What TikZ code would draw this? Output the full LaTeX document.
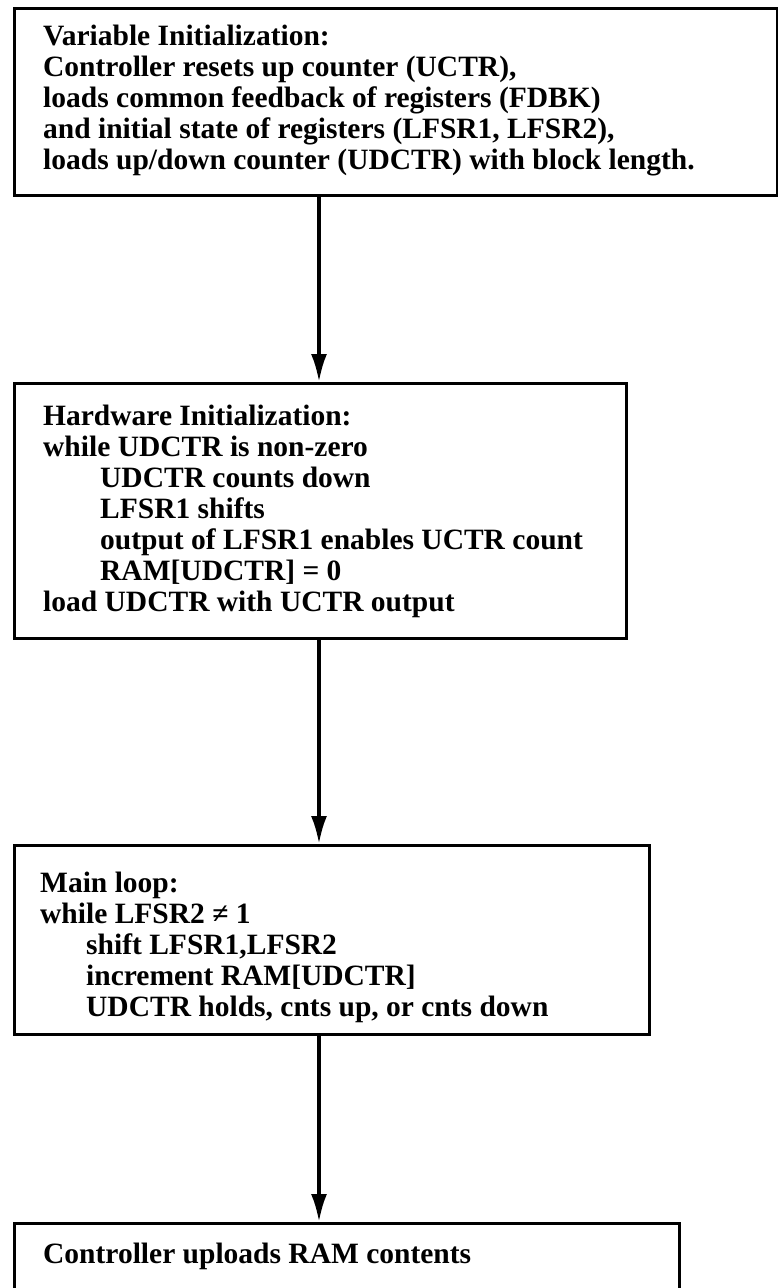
\documentclass[tikz,border=0pt]{standalone}
\usepackage{fontspec}
\setmainfont{Liberation Serif}
\usetikzlibrary{arrows.meta}
\tikzset{
  box/.style={draw, line width=3pt, inner sep=0pt, anchor=north west},
  txt/.style={anchor=north west, inner sep=0pt, align=left, font=\bfseries\fontsize{29.5}{31}\selectfont},
  arr/.style={line width=3.5pt, -{Latex[length=28pt,width=16pt]}}
}
\begin{document}
\begin{tikzpicture}[x=1pt,y=-1pt]
\useasboundingbox (0,0) rectangle (778,1288);
\begin{scope}
\clip (0,0) rectangle (778,1288);
\node[box, minimum width=763pt, minimum height=187pt] (b1) at (13,7) {};
\node[box, minimum width=612pt, minimum height=255pt] (b2) at (13,382) {};
\node[box, minimum width=635pt, minimum height=189pt] (b3) at (13,844) {};
\node[box, minimum width=665pt, minimum height=120pt] (b4) at (13,1222) {};
\end{scope}
\coordinate (ax) at (319,0);
\node[txt] (t1) at (43,25) {Variable Initialization:\\
Controller resets up counter (UCTR),\\
loads common feedback of registers (FDBK)\\
and initial state of registers (LFSR1, LFSR2),\\
loads up/down counter (UDCTR) with block length.};
\node[txt] (t2) at (43,404.5) {Hardware Initialization:\\
while UDCTR is non-zero\\
\hspace*{57pt}UDCTR counts down\\
\hspace*{57pt}LFSR1 shifts\\
\hspace*{57pt}output of LFSR1 enables UCTR count\\
\hspace*{57pt}RAM[UDCTR] = 0\\
load UDCTR with UCTR output};
\node[txt] (t3) at (40,872) {Main loop:\\
while LFSR2 ≠ 1\\
\hspace*{46pt}shift LFSR1,LFSR2\\
\hspace*{46pt}increment RAM[UDCTR]\\
\hspace*{46pt}UDCTR holds, cnts up, or cnts down};
\node[txt] (t4) at (43,1242.5) {Controller uploads RAM contents};
\draw[arr] (b1.south -| ax) -- (b2.north -| ax);
\draw[arr] (b2.south -| ax) -- (b3.north -| ax);
\draw[arr] (b3.south -| ax) -- (b4.north -| ax);
\end{tikzpicture}
\end{document}
